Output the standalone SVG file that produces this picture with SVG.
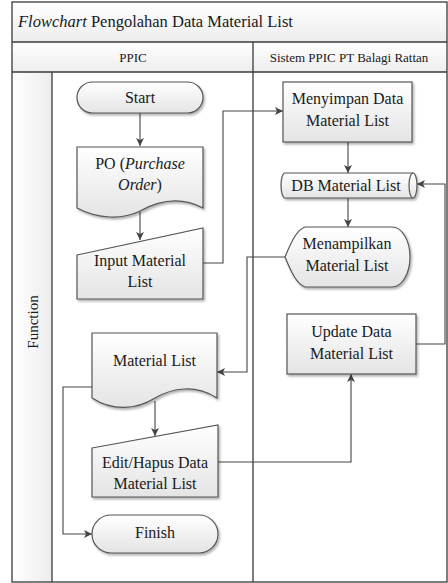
<svg xmlns="http://www.w3.org/2000/svg" width="448" height="583" viewBox="0 0 448 583" font-family="'Liberation Serif', 'Times New Roman', serif">
  <style>
    .lane { fill: none; stroke: #3a3a3a; stroke-width: 1.3; }
    .node { fill: url(#nodeFill); stroke: #555; stroke-width: 1.2; filter: url(#shadow); }
    .edge { fill: none; stroke: #444; stroke-width: 1.1; }
    .arrow { marker-end: url(#head); }
    text { font-family: 'Liberation Serif', 'Times New Roman', serif; fill: #1a1a1a; }
    .label { font-size: 16px; text-anchor: middle; }
    .hdr { font-size: 13px; text-anchor: middle; }
  </style>
  <defs>
    <linearGradient id="nodeFill" x1="0" y1="0" x2="0" y2="1">
      <stop offset="0" stop-color="#ffffff"/>
      <stop offset="1" stop-color="#e4e4e4"/>
    </linearGradient>
    <linearGradient id="rowFill" x1="0" y1="0" x2="0" y2="1">
      <stop offset="0" stop-color="#ffffff"/>
      <stop offset="1" stop-color="#ededed"/>
    </linearGradient>
    <linearGradient id="colFill" x1="0" y1="0" x2="1" y2="0">
      <stop offset="0" stop-color="#ffffff"/>
      <stop offset="1" stop-color="#ececec"/>
    </linearGradient>
    <filter id="shadow" x="-10%" y="-10%" width="125%" height="130%">
      <feDropShadow dx="1.5" dy="2" stdDeviation="1.2" flood-color="#000" flood-opacity="0.3"/>
    </filter>
    <marker id="head" viewBox="0 0 10 10" refX="10" refY="5" markerWidth="8" markerHeight="8" markerUnits="userSpaceOnUse" orient="auto">
      <path d="M0,0 L10,5 L0,10 L2.5,5 Z" fill="#444"/>
    </marker>
  </defs>

  <!-- swimlane frame -->
  <g id="pool">
    <rect x="12" y="2" width="435" height="40" fill="url(#rowFill)"/>
    <rect x="12" y="42" width="435" height="30" fill="url(#rowFill)"/>
    <rect x="12" y="72" width="40" height="510" fill="url(#colFill)"/>
    <rect class="lane" x="12" y="2" width="435" height="580"/>
    <line class="lane" x1="12" y1="42" x2="447" y2="42"/>
    <line class="lane" x1="12" y1="72" x2="447" y2="72"/>
    <line class="lane" x1="253" y1="42" x2="253" y2="582"/>
    <line class="lane" x1="52" y1="72" x2="52" y2="582"/>
    <text x="18" y="27" font-size="16.5"><tspan font-style="italic">Flowchart</tspan> Pengolahan Data Material List</text>
    <text class="hdr" x="133" y="62">PPIC</text>
    <text class="hdr" x="349" y="62">Sistem PPIC PT Balagi Rattan</text>
    <text x="0" y="0" font-size="15" text-anchor="middle" transform="translate(38 322) rotate(-90)">Function</text>
  </g>

  <!-- connectors -->
  <g id="connectors">
    <path class="edge arrow" d="M140,113 V146"/>
    <path class="edge arrow" d="M140,212 V240"/>
    <path class="edge arrow" d="M203,263 H223 V111 H283"/>
    <path class="edge arrow" d="M348,142 V173"/>
    <path class="edge arrow" d="M348,198 V227"/>
    <path class="edge arrow" d="M285,257 H247 V372 H217"/>
    <path class="edge arrow" d="M155,401 V436"/>
    <path class="edge arrow" d="M92,387 H63 V534 H92"/>
    <path class="edge arrow" d="M218,462 H351 V374"/>
    <path class="edge arrow" d="M416,344 H445 V184 H417"/>
  </g>

  <g id="start">
    <rect class="node" x="77" y="82" width="126" height="31" rx="15.5"/>
    <text class="label" x="140" y="103">Start</text>
  </g>

  <g id="po">
    <path class="node" d="M77,147 H203 V208 C180,196 158,201 140,211 C122,220 98,219 77,208 Z"/>
    <text class="label" x="140" y="169">PO (<tspan font-style="italic">Purchase</tspan></text>
    <text class="label" x="140" y="190"><tspan font-style="italic">Order</tspan>)</text>
  </g>

  <g id="input">
    <path class="node" d="M77,255 L203,228 V299 H77 Z"/>
    <text class="label" x="140" y="266">Input Material</text>
    <text class="label" x="140" y="287">List</text>
  </g>

  <g id="menyimpan">
    <rect class="node" x="283" y="82" width="129" height="60"/>
    <text class="label" x="347.5" y="104">Menyimpan Data</text>
    <text class="label" x="347.5" y="126">Material List</text>
  </g>

  <g id="db">
    <path class="node" d="M285,173 H413 A4,12.5 0 0 1 413,198 H285 A4,12.5 0 0 1 285,173 Z"/>
    <path d="M413,173 A4,12.5 0 0 0 413,198" fill="none" stroke="#555" stroke-width="1.2"/>
    <text class="label" x="346" y="191">DB Material List</text>
  </g>

  <g id="menampilkan">
    <path class="node" d="M285,257 C292,240 297,230 305,227 H392 A18,30 0 0 1 392,287 H305 C297,284 292,274 285,257 Z"/>
    <text class="label" x="347" y="249">Menampilkan</text>
    <text class="label" x="347" y="271">Material List</text>
  </g>

  <g id="update">
    <rect class="node" x="287" y="314" width="129" height="60"/>
    <text class="label" x="351.5" y="337">Update Data</text>
    <text class="label" x="351.5" y="359">Material List</text>
  </g>

  <g id="material-list">
    <path class="node" d="M92,333 H217 V398 C195,384 172,388 155,398 C136,410 112,411 92,398 Z"/>
    <text class="label" x="154.5" y="366">Material List</text>
  </g>

  <g id="edit">
    <path class="node" d="M92,448 L218,425 V497 H92 Z"/>
    <text class="label" x="155" y="468">Edit/Hapus Data</text>
    <text class="label" x="155" y="489">Material List</text>
  </g>

  <g id="finish">
    <rect class="node" x="92" y="515" width="126" height="38" rx="19"/>
    <text class="label" x="155" y="538">Finish</text>
  </g>
</svg>
